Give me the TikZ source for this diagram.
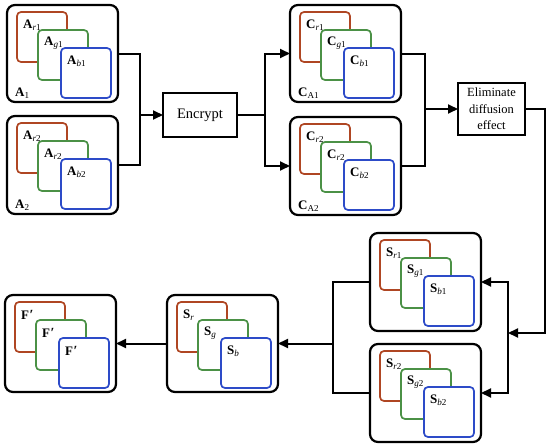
\documentclass[tikz,border=0pt]{standalone}
\usepackage{fontspec}
\setmainfont{Liberation Serif}
\usetikzlibrary{calc,arrows.meta}
\definecolor{cr}{RGB}{175,70,35}
\definecolor{cg}{RGB}{75,145,70}
\definecolor{cb}{RGB}{45,75,200}
\newcommand\labfont{\fontsize{13}{15}\selectfont}
\newcommand\sub[1]{\textsubscript{#1}}
\newcommand\fpr{\textbf{F}\kern0.5pt{\fontsize{14}{15}\selectfont\bfseries ′}}
\newcommand\rgbset[8]{%
  \node[outerbox, minimum height=#4] (#1) at (#2,#3) {};
  \node[sq, draw=cr] (#1r) at ($(#1.north west)+(10,7)$) {};
  \node[sq, draw=cg] (#1g) at ($(#1.north west)+(31,25)$) {};
  \node[sq, draw=cb] (#1b) at ($(#1.north west)+(54,43)$) {};
  \node[lab] (#1rl) at ($(#1r.north west)+(6,13)$) {#5};
  \node[lab] (#1gl) at ($(#1g.north west)+(6,13)$) {#6};
  \node[lab] (#1bl) at ($(#1b.north west)+(6,13)$) {#7};
  \if\relax\detokenize{#8}\relax\else
  \node[lab] (#1l) at ($(#1.south west)+(8,-9)$) {#8};
  \fi
}
\begin{document}
\begin{tikzpicture}[x=1pt,y=-1pt,
  outerbox/.style={draw, line width=2.2pt, rounded corners=8pt, minimum width=111pt, anchor=north west, inner sep=0pt, outer sep=0pt},
  sq/.style={line width=1.7pt, rounded corners=4pt, minimum size=50pt, anchor=north west, inner sep=0pt, outer sep=0pt, fill=white},
  lab/.style={anchor=west, inner sep=0pt, font=\labfont},
  procbox/.style={draw, line width=1.8pt, inner sep=0pt, outer sep=0pt, align=center},
  conn/.style={line width=2pt},
  arr/.style={line width=2pt, -{Triangle[length=10pt,width=9pt]}}]
\useasboundingbox (0,0) rectangle (550,447);

\rgbset{A1}{7}{5}{97pt}{\textbf{A}\sub{\textit{r}1}}{\textbf{A}\sub{\textit{g}1}}{\textbf{A}\sub{\textit{b}1}}{\textbf{A}\sub{1}}
\rgbset{A2}{7}{116}{98pt}{\textbf{A}\sub{\textit{r}2}}{\textbf{A}\sub{\textit{r}2}}{\textbf{A}\sub{\textit{b}2}}{\textbf{A}\sub{2}}
\rgbset{C1}{290}{5}{97pt}{\textbf{C}\sub{\textit{r}1}}{\textbf{C}\sub{\textit{g}1}}{\textbf{C}\sub{\textit{b}1}}{\textbf{C}\sub{A1}}
\rgbset{C2}{290}{117}{98pt}{\textbf{C}\sub{\textit{r}2}}{\textbf{C}\sub{\textit{r}2}}{\textbf{C}\sub{\textit{b}2}}{\textbf{C}\sub{A2}}
\rgbset{S1}{370}{233}{98pt}{\textbf{S}\sub{\textit{r}1}}{\textbf{S}\sub{\textit{g}1}}{\textbf{S}\sub{\textit{b}1}}{}
\rgbset{S2}{370}{344}{98pt}{\textbf{S}\sub{\textit{r}2}}{\textbf{S}\sub{\textit{g}2}}{\textbf{S}\sub{\textit{b}2}}{}
\rgbset{Sr}{167}{295}{97pt}{\textbf{S}\sub{\textit{r}}}{\textbf{S}\sub{\textit{g}}}{\textbf{S}\sub{\textit{b}}}{}
\rgbset{F}{5}{295}{97pt}{\fpr}{\fpr}{\fpr}{}

\node[procbox, minimum width=74pt, minimum height=44pt, font=\fontsize{14.5}{16}\selectfont] (enc) at (200,115) {Encrypt};
\node[procbox, minimum width=67pt, minimum height=52pt, font=\fontsize{12.5}{16.5}\selectfont] (elim) at (491.5,109) {Eliminate\\diffusion\\effect};

\path (enc.west) ++(-23,0) coordinate (j1);
\path (enc.east) ++(28,0) coordinate (j2);
\path (elim.west) ++(-33,0) coordinate (j3);
\path (elim.east) ++(20,0) coordinate (c4a);
\coordinate (c4) at (c4a |- 0,333);
\path (c4) ++(-37,0) coordinate (j4);
\path (Sr.east) ++(55,0) coordinate (j5);

\draw[conn] (A1.east) -| (j1);
\draw[conn] (A2.east) -| (j1);
\draw[arr] (j1) -- (enc.west);
\draw[conn] (enc.east) -- (j2);
\draw[arr] (j2) |- (C1.west);
\draw[arr] (j2) |- (C2.west);
\draw[conn] (C1.east) -| (j3);
\draw[conn] (C2.east) -| (j3);
\draw[arr] (j3) -- (elim.west);
\draw[arr] (elim.east) -| (c4) -- (j4);
\draw[arr] (j4) |- (S1.east);
\draw[arr] (j4) |- (S2.east);
\draw[conn] (S1.west) -| (j5);
\draw[conn] (S2.west) -| (j5);
\draw[arr] (j5) -- (Sr.east);
\draw[arr] (Sr.west) -- (F.east);
\end{tikzpicture}
\end{document}
